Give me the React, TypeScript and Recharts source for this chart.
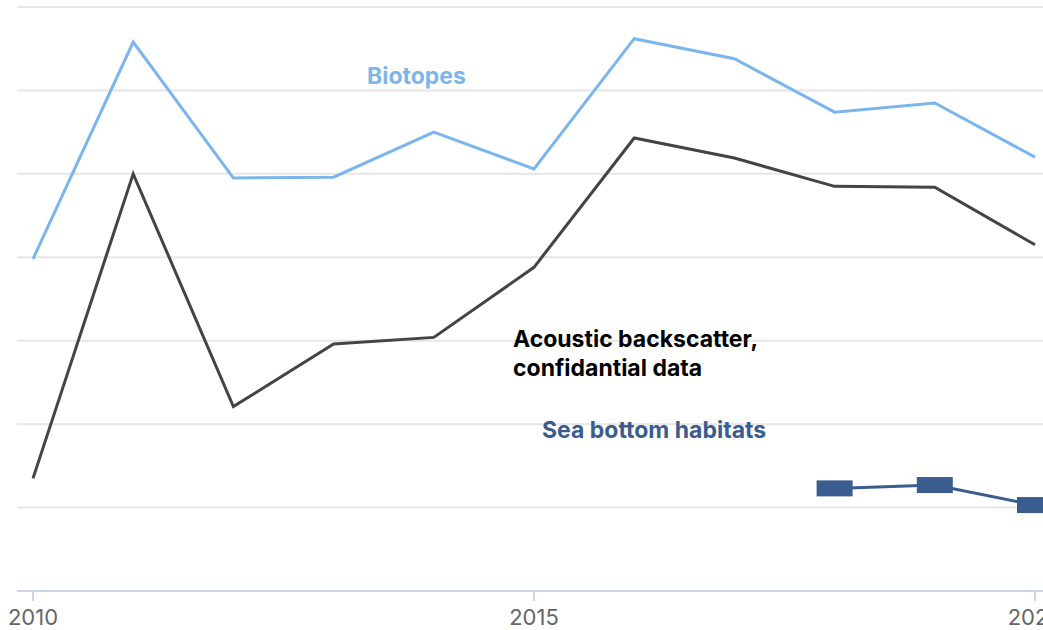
import React from 'react';
import { LineChart, CartesianGrid, XAxis, YAxis, Line, Customized } from 'recharts';

const years = [2010, 2011, 2012, 2013, 2014, 2015, 2016, 2017, 2018, 2019, 2020];
const biotopes = [3.98, 6.58, 4.95, 4.96, 5.5, 5.06, 6.62, 6.38, 5.74, 5.85, 5.2];
const acoustic = [1.35, 5.0, 2.21, 2.96, 3.04, 3.88, 5.43, 5.19, 4.85, 4.84, 4.15];
const seaBottom = [null, null, null, null, null, null, null, null, 1.23, 1.27, 1.03];
const xTicks = [2010, 2015, 2020];
const yTicks = [0, 1, 2, 3, 4, 5, 6, 7];

const chartData = years.map((year, i) => ({
    year,
    biotopes: biotopes[i],
    acoustic: acoustic[i],
    seaBottom: seaBottom[i],
}));

const FONT = 'Inter, "Noto Sans", sans-serif';

const RectDot: React.FC<any> = ({ cx, cy, fill }) => {
    if (cx == null || cy == null) return null;
    return <rect x={cx - 18} y={cy - 8} width={36} height={16} fill={fill} />;
};

const SeriesLabels = () => (
    <g style={{ fontFamily: FONT, fontWeight: 700, fontSize: 23 }}>
        <text x={367} y={84} fill="#7cb5ec">Biotopes</text>
        <text x={513} y={347} fill="#000000">Acoustic backscatter,</text>
        <text x={513} y={376} fill="#000000">confidantial data</text>
        <text x={542} y={438} fill="#3b5c8e">Sea bottom habitats</text>
    </g>
);

const App: React.FC = () => {
    return (
        <div style={{ position: 'absolute', left: 0, top: 0, width: 1043, height: 630, overflow: 'hidden', background: '#fff' }}>
            <LineChart
                width={1062}
                height={630}
                data={chartData}
                margin={{ top: 7, right: 11, left: 17, bottom: 0 }}
            >
                <CartesianGrid vertical={false} stroke="#e6e6e6" strokeWidth={2} />
                <XAxis
                    dataKey="year"
                    type="number"
                    domain={[2010, 2020]}
                    ticks={xTicks}
                    padding={{ left: 16, right: 16 }}
                    height={39}
                    tickSize={10}
                    tickMargin={8}
                    stroke="#ccd6eb"
                    strokeWidth={2}
                    tick={{ fill: '#666666', fontSize: 22, fontFamily: FONT }}
                />
                <YAxis hide domain={[0, 7]} ticks={yTicks} />
                <Line
                    dataKey="biotopes"
                    stroke="#7cb5ec"
                    strokeWidth={3}
                    dot={false}
                    isAnimationActive={false}
                />
                <Line
                    dataKey="acoustic"
                    stroke="#434348"
                    strokeWidth={3}
                    dot={false}
                    isAnimationActive={false}
                />
                <Line
                    dataKey="seaBottom"
                    stroke="#3b5c8e"
                    fill="#3b5c8e"
                    strokeWidth={3}
                    dot={<RectDot fill="#3b5c8e" />}
                    isAnimationActive={false}
                />
                <Customized component={SeriesLabels} />
            </LineChart>
        </div>
    );
};

export default App;
